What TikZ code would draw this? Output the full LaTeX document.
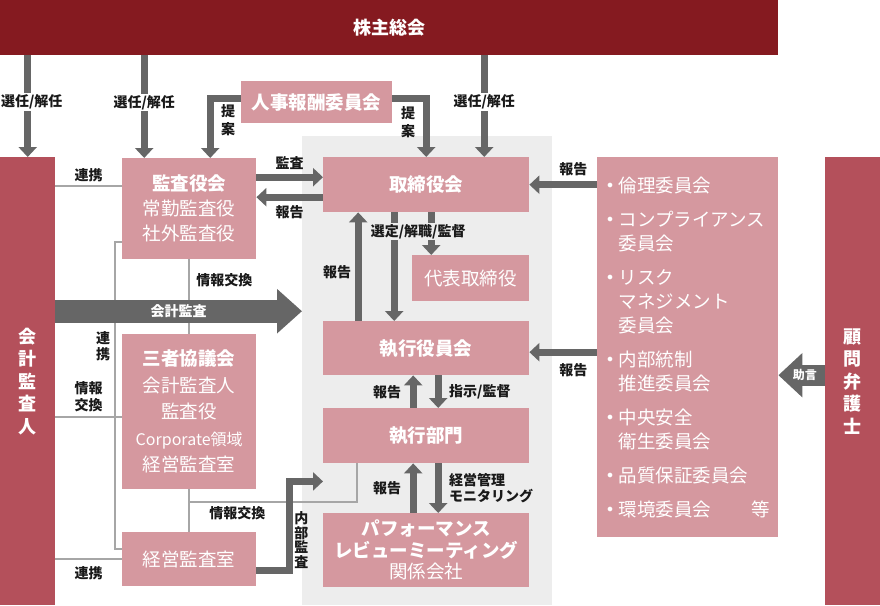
\documentclass[tikz,border=0pt]{standalone}
\usepackage{fontspec}
\setmainfont{Noto Sans CJK JP}
\usetikzlibrary{arrows.meta,calc}

\definecolor{shareholders}{HTML}{851A20}
\definecolor{sidebar}{HTML}{B4505B}
\definecolor{boxpink}{HTML}{D5989F}
\definecolor{execbg}{HTML}{EDEDED}
\definecolor{arrgray}{HTML}{666666}
\definecolor{linegray}{HTML}{A6A6A6}

\newcommand\dotitem{\makebox[14pt][l]{\hspace{2.5pt}\raisebox{4pt}{\fontsize{12}{12}\selectfont$\bullet$}}}
\newcommand\contline{\hspace*{14pt}}

\tikzset{
  box/.style={fill=boxpink, text=white, anchor=north west, inner sep=0pt, align=center, font=\fontsize{18.5}{25}\selectfont},
  bar/.style={fill=sidebar, text=white, anchor=north west, inner sep=0pt, align=center, minimum width=55pt, minimum height=448pt, font=\bfseries\fontsize{18}{22.5}\selectfont},
  lbl/.style={font=\bfseries\fontsize{14}{17}\selectfont, text=black!90, inner sep=1.5pt, align=center},
  arr/.style={draw=arrgray, line width=7pt, -{Triangle[width=18pt,length=10pt]}},
  auditarr/.style={draw=arrgray, line width=23pt, -{Triangle[width=43pt,length=25pt]}},
  advicearr/.style={draw=arrgray, line width=21pt, -{Triangle[width=43pt,length=24pt]}},
  link/.style={draw=linegray, line width=1.5pt},
}

\begin{document}
\begin{tikzpicture}[x=1pt, y=-1pt]
	\useasboundingbox (0,0) rectangle (880,605);
	% executive area
	\node[fill=execbg, anchor=north west, minimum width=250pt, minimum height=469pt, inner sep=0pt] (execarea) at (302,136) {};
	% boxes
	\node[box, fill=shareholders, minimum width=778pt, minimum height=55pt, font=\bfseries\fontsize{18}{22}\selectfont] (soukai) at (0,0) {株主総会};
	\node[bar] (kaikei) at (0,157) {会\\計\\監\\査\\人};
	\node[bar] (komon) at (825,157) {顧\\問\\弁\\護\\士};
	\node[box, minimum width=151pt, minimum height=42pt, font=\bfseries\fontsize{18.5}{22}\selectfont] (jinji) at (241,81) {人事報酬委員会};
	\node[box, minimum width=134pt, minimum height=101pt] (kansa) at (122,158) {\textbf{監査役会}\\常勤監査役\\社外監査役};
	\node[box, minimum width=206pt, minimum height=55pt] (torishimari) at (323,157) {\textbf{取締役会}};
	\node[box, minimum width=117pt, minimum height=46pt] (daihyo) at (412,255) {代表取締役};
	\node[box, minimum width=206pt, minimum height=54pt] (yakuin) at (323,321) {\textbf{執行役員会}};
	\node[box, minimum width=206pt, minimum height=55pt] (bumon) at (323,408) {\textbf{執行部門}};
	\node[box, minimum width=206pt, minimum height=74pt, font=\fontsize{18.5}{21.5}\selectfont] (review) at (323,513) {\textbf{パフォーマンス}\\\textbf{レビューミーティング}\\関係会社};
	\node[box, minimum width=134pt, minimum height=155pt, font=\fontsize{18.5}{26.5}\selectfont] (sansha) at (122,334) {\textbf{三者協議会}\\会計監査人\\監査役\\{\fontsize{16}{26.5}\selectfont Corporate領域}\\経営監査室};
	\node[box, minimum width=134pt, minimum height=54pt] (keieikansa) at (122,532) {経営監査室};
	\node[box, minimum width=181pt, minimum height=380pt, align=left, text width=166pt, font=\fontsize{18.5}{24}\selectfont] (iinkai) at (597,157) {%
		\dotitem 倫理委員会\\[10pt]
		\dotitem コンプライアンス\\
		\contline 委員会\\[10pt]
		\dotitem リスク\\
		\contline マネジメント\\
		\contline 委員会\\[10pt]
		\dotitem 内部統制\\
		\contline 推進委員会\\[10pt]
		\dotitem 中央安全\\
		\contline 衛生委員会\\[10pt]
		\dotitem 品質保証委員会\\[10pt]
		\dotitem 環境委員会\hspace{40pt}等};
	% thin links
	\draw[link] ($(kaikei.east |- kansa.west)+(0,-22.5)$) -- node[lbl, above=2pt] (renkei-top) {連携} ($(kansa.west)+(0,-22.5)$);
	\draw[link] ($(kansa.west)+(0,33.5)$) -- ++(-7,0) |- ($(keieikansa.west)+(0,-10)$);
	\node[lbl, font=\bfseries\fontsize{14}{16}\selectfont] (renkei-mid) at ($(kansa.west)+(-19,137.5)$) {連\\携};
	\draw[link] ($(kaikei.east |- sansha.west)+(0,5.5)$) -- node[lbl, above=3pt] (info-left) {情報\\交換} ($(sansha.west)+(0,5.5)$);
	\draw[link] (kaikei.east |- keieikansa.west) -- node[lbl, below=5pt] (renkei-low) {連携} (keieikansa.west);
	\draw[link] (kansa.south) -- node[lbl, right=5pt, pos=0.28] (info-top) {情報交換} (sansha.north);
	\draw[link] (sansha.south) -- (keieikansa.north);
	\draw[link] ($(bumon.south)+(-69,0)$) |- node[lbl, below=2pt, pos=0.857] (info-low) {情報交換} ($(sansha.south)!0.3!(keieikansa.north)$);
	% election
	\draw[arr] (kaikei.north |- soukai.south) -- node[lbl, fill=white, pos=0.46, xshift=4pt] (sel-kaikei) {選任/解任} (kaikei.north);
	\draw[arr] ($(kansa.north |- soukai.south)+(-45,0)$) -- node[lbl, fill=white, pos=0.46] (sel-kansa) {選任/解任} ($(kansa.north)+(-45,0)$);
	\draw[arr] ($(torishimari.north |- soukai.south)+(58,0)$) -- node[lbl, fill=white, pos=0.46] (sel-torishimari) {選任/解任} ($(torishimari.north)+(58,0)$);
	% proposals
	\draw[arr] ($(jinji.west)+(0,-4)$) -| node[lbl, pos=0.68, right=6pt, font=\bfseries\fontsize{14}{18}\selectfont] (teian-kansa) {提\\案} ($(kansa.north)+(21,0)$);
	\draw[arr] ($(jinji.east)+(0,-4)$) -| node[lbl, pos=0.70, left=6pt, font=\bfseries\fontsize{14}{18}\selectfont] (teian-torishimari) {提\\案} (torishimari.north);
	% audit and report
	\draw[arr] ($(kansa.east |- torishimari.west)+(0,-7.5)$) -- node[lbl, above=3pt] (kansa-audit) {監査} ($(torishimari.west)+(0,-7.5)$);
	\draw[arr] ($(torishimari.west)+(0,12.5)$) -- node[lbl, below=3pt] (torishimari-report) {報告} ($(kansa.east |- torishimari.west)+(0,12.5)$);
	% board to executives
	\draw[arr] ($(torishimari.south)+(-32,0)$) -- ($(yakuin.north)+(-32,0)$);
	\draw[arr] ($(torishimari.south)+(5,0)$) -- ($(torishimari.south |- daihyo.north)+(5,0)$);
	\node[lbl, fill=execbg] (appoint) at ($(torishimari.south)+(-8,19)$) {選定/解職/監督};
	\draw[arr] ($(yakuin.north)+(-68,0)$) -- node[lbl, left=2pt, pos=0.45] (yakuin-report) {報告} ($(torishimari.south)+(-68,0)$);
	\draw[arr] ($(bumon.north)+(-13,0)$) -- node[lbl, left=7pt] (bumon-report) {報告} ($(yakuin.south)+(-13,0)$);
	\draw[arr] ($(yakuin.south)+(12,0)$) -- node[lbl, right=6pt] (yakuin-order) {指示/監督} ($(bumon.north)+(12,0)$);
	\draw[arr] ($(review.north)+(-13,0)$) -- node[lbl, left=7pt] (review-report) {報告} ($(bumon.south)+(-13,0)$);
	\draw[arr] ($(bumon.south)+(12,0)$) -- node[lbl, right=6pt, align=left, font=\bfseries\fontsize{14}{16}\selectfont] (monitoring) {経営管理\\モニタリング} ($(review.north)+(12,0)$);
	% committees report
	\draw[arr] (iinkai.west |- torishimari.east) -- node[lbl, above=4pt, pos=0.35] (iinkai-report1) {報告} (torishimari.east);
	\draw[arr] ($(iinkai.west |- yakuin.east)+(0,4)$) -- node[lbl, below=6pt, pos=0.35] (iinkai-report2) {報告} ($(yakuin.east)+(0,4)$);
	% advice
	\draw[advicearr] ($(komon.west)+(0,-6)$) -- node[pos=0.43, text=white, font=\bfseries\fontsize{12}{12}\selectfont] (advice) {助言} ($(iinkai.east |- komon.west)+(0,-6)$);
	% accounting audit
	\draw[auditarr] ($(kaikei.east)+(0,-70)$) -- node[text=white, font=\bfseries\fontsize{14}{14}\selectfont] (audit) {会計監査} ($(execarea.west |- kaikei.east)+(0,-70)$);
	% internal audit
	\draw[arr] ($(keieikansa.east)+(0,11)$) -- ++(33,0) |- ($(bumon.south west)+(0,18)$);
	\node[lbl, font=\bfseries\fontsize{14}{14.5}\selectfont] (naibu) at ($(keieikansa.east)+(45,-19)$) {内\\部\\監\\査};
\end{tikzpicture}
\end{document}
